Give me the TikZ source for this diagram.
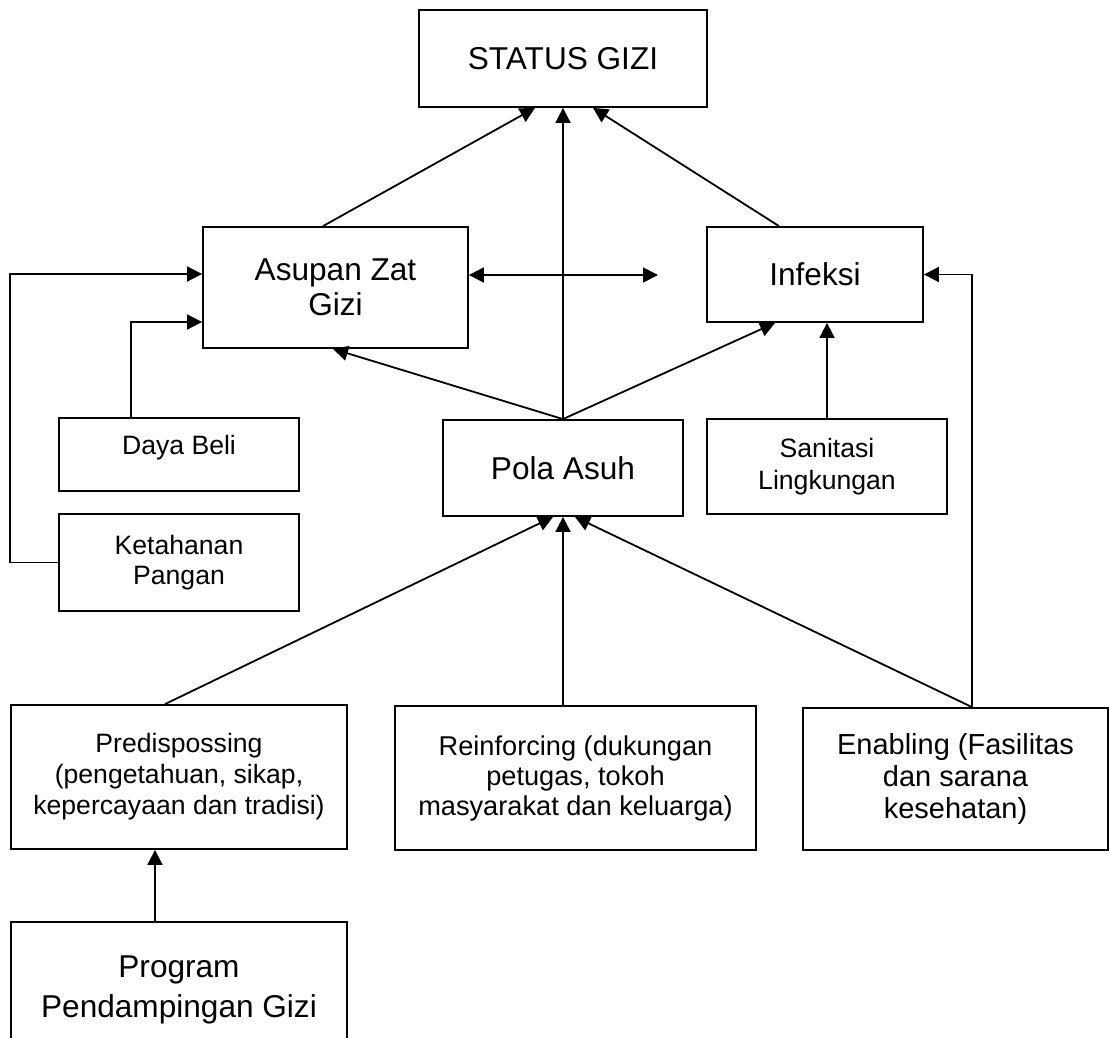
\documentclass[tikz,border=0pt]{standalone}
\usepackage{fontspec}
\setmainfont{Liberation Sans}
\usetikzlibrary{arrows.meta}

\tikzset{
  box/.style={draw, line width=0.9pt, align=center, inner sep=0pt},
  bigfont/.style={font=\fontsize{15.8}{17.5}\selectfont},
  midfont/.style={font=\fontsize{14.5}{16.2}\selectfont},
  smallfont/.style={font=\fontsize{13.3}{15.5}\selectfont},
  link/.style={line width=0.9pt, ->},
}

\begin{document}
\begin{tikzpicture}[x=0.5pt, y=-0.5pt, >={Triangle[length=7.5pt, width=7.5pt]}]

    \useasboundingbox (0,0) rectangle (1109,1038);

    \node (status) at (563,58.5) [box, bigfont, minimum width=144pt, minimum height=48.5pt] {STATUS GIZI};

    \node (asupan) at (335.5,287.5) [box, bigfont, minimum width=132.5pt, minimum height=60.5pt] {Asupan Zat\\Gizi};
    \node (infeksi) at (815,274.5) [box, bigfont, minimum width=108pt, minimum height=47.5pt] {Infeksi};
    \coordinate (kanan) at (658,275);

    \node (pola) at (563,468) [box, bigfont, minimum width=120pt, minimum height=48pt] {Pola Asuh};
    \node (sanitasi) at (827,466.5) [box, smallfont, font=\fontsize{13.3}{16}\selectfont, minimum width=120pt, minimum height=47.5pt] {Sanitasi\\Lingkungan};
    \node (daya) at (179,454.5) [box, smallfont, text depth=9.5pt, minimum width=120pt, minimum height=36.5pt] {Daya Beli};
    \node (keta) at (179,562.5) [box, font=\fontsize{13.3}{15}\selectfont, minimum width=120pt, minimum height=48.5pt] {Ketahanan\\Pangan};

    \node (predis) at (179,777) [box, smallfont, minimum width=168pt, minimum height=72pt] {Predispossing\\(pengetahuan, sikap,\\kepercayaan dan tradisi)};
    \node (reinf) at (575.5,778) [box, font=\fontsize{13.6}{15}\selectfont, minimum width=180.5pt, minimum height=72pt] {Reinforcing (dukungan\\petugas, tokoh\\masyarakat dan keluarga)};
    \node (enab) at (955.5,779) [box, midfont, minimum width=152.5pt, minimum height=71pt] {Enabling (Fasilitas\\dan sarana\\kesehatan)};

    \node (prog) at (179,990) [box, font=\fontsize{15.8}{20}\selectfont, minimum width=168pt, minimum height=68pt] {Program\\Pendampingan Gizi};

    \draw[link] (asupan.north -| 323,0) -- (status.south -| 535,0);
    \draw[link] (pola.north) -- (status.south);
    \draw[link] (infeksi.north -| 779,0) -- (status.south -| 593,0);
    \draw[line width=0.9pt, <->] (asupan.east |- kanan) -- (kanan);

    \draw[link] (pola.north) -- (asupan.south -| 333,0);
    \draw[link] (pola.north) -- (infeksi.south -| 775,0);
    \draw[link] (sanitasi.north) -- (infeksi.south -| sanitasi.north);

    \draw[link] (daya.north -| 131,0) |- (asupan.west |- 0,322);
    \draw[link] (keta.west) -- ++(-48,0) |- (asupan.west |- 0,274);

    \draw[link] (predis.north -| 165,0) -- (pola.south -| 553,0);
    \draw[link] (reinf.north -| pola.south) -- (pola.south);
    \draw[link] (enab.north -| 972,0) -- (pola.south -| 575,0);
    \draw[link] (enab.north -| 972,0) |- (infeksi.east);

    \draw[link] (prog.north -| 155,0) -- (predis.south -| 155,0);

\end{tikzpicture}
\end{document}
